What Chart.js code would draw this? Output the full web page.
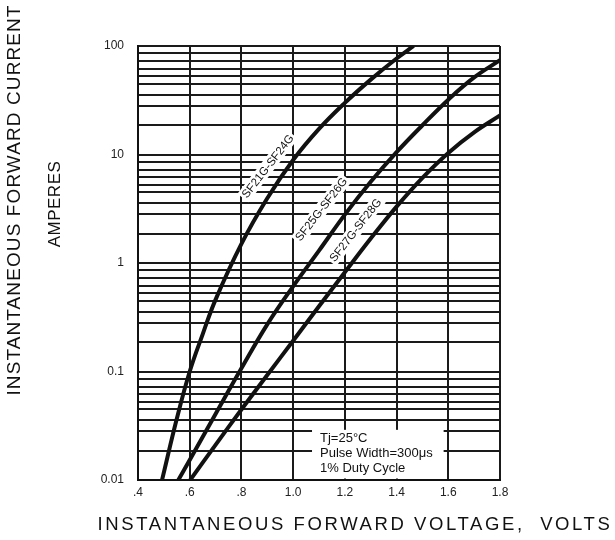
<!DOCTYPE html>
<html>
<head>
<meta charset="utf-8">
<script src="https://cdn.jsdelivr.net/npm/chart.js@4.4.1/dist/chart.umd.min.js"></script>
<style>
  html, body { margin: 0; padding: 0; background: #fff; }
</style>
</head>
<body>
<canvas id="myChart" width="615" height="540"></canvas>
<script>

// axis ticks
const voltTicks = [0.4, 0.6, 0.8, 1.0, 1.2, 1.4, 1.6, 1.8];
const voltLabels = ['.4', '.6', '.8', '1.0', '1.2', '1.4', '1.6', '1.8'];
const decades = [0.01, 0.1, 1, 10, 100];
const decadeLabels = ['0.01', '0.1', '1', '10', '100'];
// the sheet's grid is not a true log grid, these steps are read off it
const gridSteps = [1.87, 2.8, 3.57, 4.51, 5.29, 6.2, 7.27, 8.53];

// forward voltage (V) / forward current (A)
const seriesNames = ['SF21G-SF24G', 'SF25G-SF26G', 'SF27G-SF28G'];
const volts1 = [0.493, 0.55, 0.6, 0.65, 0.7, 0.8, 0.9, 1.0, 1.1, 1.2, 1.3, 1.4, 1.466];
const amps1  = [0.01, 0.0366, 0.1, 0.22, 0.46, 1.5, 3.95, 8.9, 17.2, 29.9, 49, 76.7, 100];
const volts2 = [0.556, 0.6, 0.7, 0.8, 0.9, 1.0, 1.1, 1.2, 1.3, 1.4, 1.5, 1.6, 1.7, 1.8];
const amps2  = [0.01, 0.0153, 0.0406, 0.107, 0.272, 0.61, 1.3, 2.79, 5.6, 10.5, 18.6, 32, 51.3, 74];
const volts3 = [0.602, 0.7, 0.8, 0.9, 1.0, 1.1, 1.2, 1.3, 1.4, 1.5, 1.6, 1.7, 1.8];
const amps3  = [0.01, 0.0211, 0.0446, 0.0927, 0.192, 0.4, 0.822, 1.68, 3.31, 6.1, 10.35, 16.0, 22.9];

const noteLines = ['Tj=25\u00B0C', 'Pulse Width=300\u03BCs', '1% Duty Cycle'];

const FONT = "'Liberation Sans', Arial, sans-serif";

function toPoints(vs, is) {
  return vs.map((v, k) => ({ x: v, y: is[k] }));
}

function drawCurveLabel(ctx, chart, text, v, a) {
  const x = chart.scales.x.getPixelForValue(v);
  const y = chart.scales.y.getPixelForValue(a);
  ctx.save();
  ctx.translate(x, y);
  ctx.rotate(-52 * Math.PI / 180);
  ctx.font = '11.5px ' + FONT;
  const w = ctx.measureText(text).width;
  ctx.fillStyle = '#fff';
  ctx.fillRect(-w / 2 - 2, -7, w + 4, 14);
  ctx.fillStyle = '#111';
  ctx.textAlign = 'center';
  ctx.textBaseline = 'middle';
  ctx.fillText(text, 0, 0.5);
  ctx.restore();
}

const sheetPlugin = {
  id: 'sheet',
  beforeDatasetsDraw(chart) {
    const ctx = chart.ctx;
    const sx = chart.scales.x, sy = chart.scales.y;

    drawCurveLabel(ctx, chart, seriesNames[0], 0.902, 7.8);
    drawCurveLabel(ctx, chart, seriesNames[1], 1.109, 3.13);
    drawCurveLabel(ctx, chart, seriesNames[2], 1.241, 2.01);

    // condition box
    const left = sx.getPixelForValue(1.073);
    const right = sx.getPixelForValue(1.582);
    const top = sy.getPixelForValue(0.029);
    const bottom = chart.chartArea.bottom - 1.5;
    ctx.save();
    ctx.fillStyle = '#fff';
    ctx.fillRect(left, top, right - left, bottom - top);
    ctx.fillStyle = '#111';
    ctx.font = '13px ' + FONT;
    ctx.textBaseline = 'alphabetic';
    noteLines.forEach((t, k) => {
      ctx.fillText(t, left + 8, top + 12 + k * 15);
    });
    ctx.restore();
  },
  afterDraw(chart) {
    const ctx = chart.ctx;
    ctx.save();
    ctx.fillStyle = '#111';
    ctx.textAlign = 'center';
    ctx.textBaseline = 'middle';

    ctx.save();
    ctx.translate(15, 200);
    ctx.rotate(-Math.PI / 2);
    ctx.font = '19px ' + FONT;
    ctx.letterSpacing = '1.1px';
    ctx.fillText('INSTANTANEOUS FORWARD CURRENT', 0, 0);
    ctx.restore();

    ctx.save();
    ctx.translate(55, 204);
    ctx.rotate(-Math.PI / 2);
    ctx.font = '17px ' + FONT;
    ctx.letterSpacing = '0.5px';
    ctx.fillText('AMPERES', 0, 0);
    ctx.restore();

    ctx.font = '18.5px ' + FONT;
    ctx.letterSpacing = '2.6px';
    ctx.fillText('INSTANTANEOUS FORWARD VOLTAGE,  VOLTS', 355, 525);
    ctx.restore();
  }
};

const lineStyle = {
  borderColor: '#111',
  borderWidth: 4,
  pointRadius: 0,
  fill: false,
  tension: 0.4
};

const data = {
  datasets: [
    Object.assign({ label: seriesNames[0], data: toPoints(volts1, amps1) }, lineStyle),
    Object.assign({ label: seriesNames[1], data: toPoints(volts2, amps2) }, lineStyle),
    Object.assign({ label: seriesNames[2], data: toPoints(volts3, amps3) }, lineStyle)
  ]
};

const gridOpts = {
  color: '#1a1a1a',
  lineWidth: 2,
  drawTicks: false
};

const config = {
  type: 'line',
  data: data,
  options: {
    responsive: false,
    animation: false,
    devicePixelRatio: 1,
    layout: {
      padding: { left: 0, top: 46, right: 115, bottom: 0 }
    },
    plugins: {
      legend: { display: false },
      tooltip: { enabled: false }
    },
    scales: {
      x: {
        type: 'linear',
        min: 0.4,
        max: 1.8,
        grid: gridOpts,
        border: { color: '#111', width: 2 },
        afterBuildTicks: (axis) => {
          axis.ticks = voltTicks.map(v => ({ value: v }));
        },
        afterFit: (axis) => { axis.height = 60; },
        ticks: {
          autoSkip: false,
          maxRotation: 0,
          padding: 5,
          color: '#222',
          font: { family: FONT, size: 12 },
          callback: (v, i) => voltLabels[i]
        }
      },
      y: {
        type: 'logarithmic',
        min: 0.01,
        max: 100,
        grid: gridOpts,
        border: { color: '#111', width: 2 },
        afterBuildTicks: (axis) => {
          const vals = [];
          decades.forEach((d, k) => {
            vals.push(d);
            if (k < decades.length - 1) {
              gridSteps.forEach(s => vals.push(s * d));
            }
          });
          axis.ticks = vals.map(v => ({ value: v }));
        },
        afterFit: (axis) => { axis.width = 138; },
        ticks: {
          autoSkip: false,
          padding: 14,
          color: '#222',
          font: { family: FONT, size: 12 },
          callback: (v) => {
            const k = decades.indexOf(v);
            return k >= 0 ? decadeLabels[k] : '';
          }
        }
      }
    }
  },
  plugins: [sheetPlugin]
};

const myChart = new Chart(
  document.getElementById('myChart'),
  config
);
</script>
</body>
</html>
